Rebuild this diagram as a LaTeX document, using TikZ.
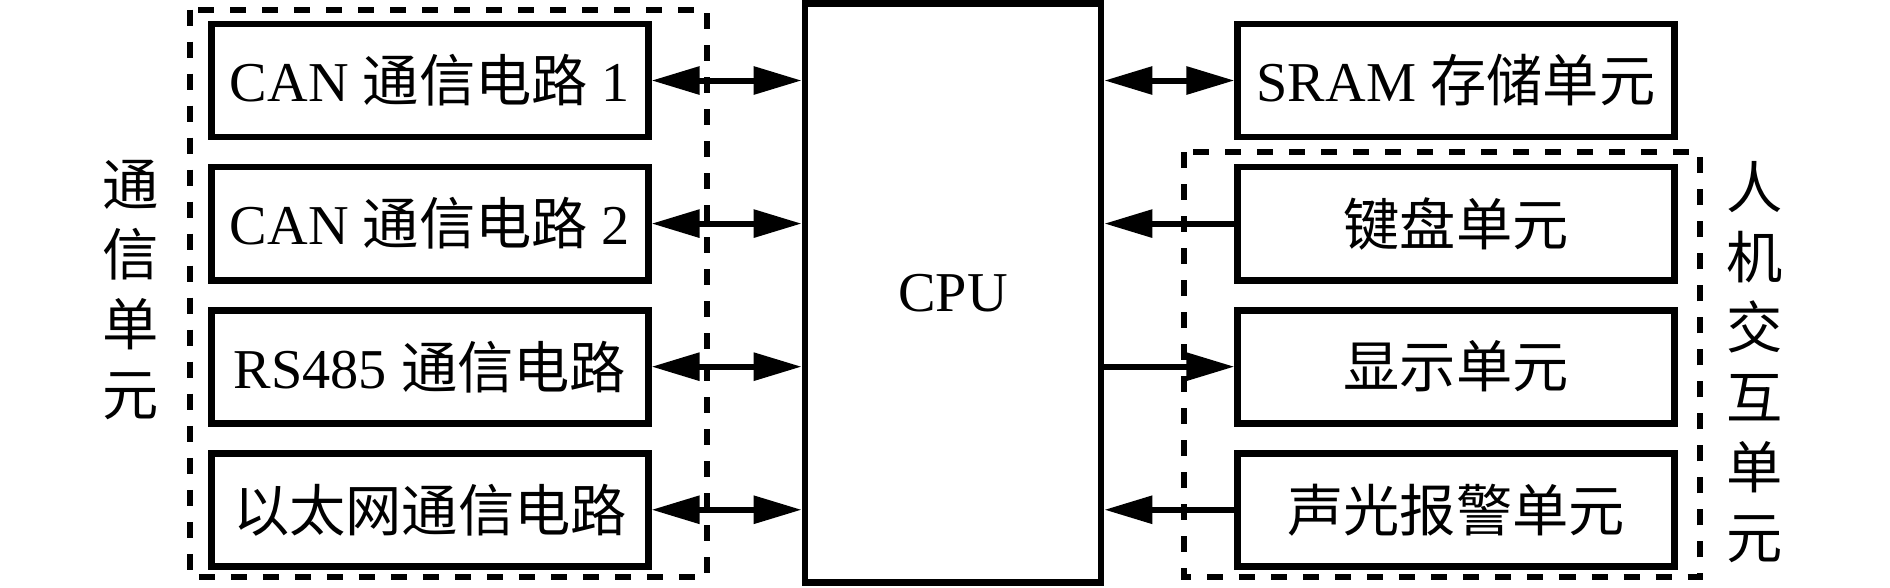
\documentclass[tikz,border=0pt]{standalone}
\usepackage{fontspec}
\setmainfont{Liberation Serif}
\newfontfamily\cjk{Noto Sans CJK SC}
\usetikzlibrary{arrows.meta,positioning}
\tikzstyle{aB}=[every edge/.style={draw,line width=0.06cm,>={Triangle[length=0.48cm,width=0.27cm]}}]
\tikzstyle{Ablk}=[draw,line width=0.068cm,minimum width=4.36cm,minimum height=1.13cm,inner sep=0,
                node distance=1.43cm,font=\fontsize{16}{19}\selectfont]
\tikzstyle{Acpu}=[draw,line width=0.065cm,minimum width=2.96cm,minimum height=5.79cm,inner sep=0,
                font=\fontsize{16}{19}\selectfont]
\tikzstyle{Agrp}=[line width=0.06cm,dash pattern=on 0.16cm off 0.16cm]
\tikzstyle{Alab}=[align=center,inner sep=0,font=\cjk\fontsize{16}{19.9}\selectfont]
\newcommand{\zh}[1]{{\cjk #1}}

\begin{document}
\begin{tikzpicture}[aB,x=0.01cm,y=-0.01cm]
    \useasboundingbox (0,0) rectangle (1890,587);

    \node[Acpu] (cpu) at (953,293) {CPU};
    % communication side
    \node[Ablk] (can1) at (430,80.5) {CAN \zh{通信电路} 1};
    \node[Ablk,below of=can1] (can2) {CAN \zh{通信电路} 2};
    \node[Ablk,below of=can2] (rs485) {RS485 \zh{通信电路}};
    \node[Ablk,below of=rs485] (eth) {\zh{以太网通信电路}};
    \draw[Agrp] (190,9.5) rectangle (707,577);
    \node[Alab] (comm) at (131,290) {通\\信\\单\\元};
    % memory and HMI side
    \node[Ablk] (sram) at (1456,80.5) {SRAM \zh{存储单元}};
    \node[Ablk,below of=sram] (key) {\zh{键盘单元}};
    \node[Ablk,below of=key] (disp) {\zh{显示单元}};
    \node[Ablk,below of=disp] (alarm) {\zh{声光报警单元}};
    \draw[Agrp] (1184,152) rectangle (1700,577);
    \node[Alab] (hmi) at (1755,362) {人\\机\\交\\互\\单\\元};

    \foreach \n in {can1,can2,rs485,eth}
        \path (\n.east) edge[<->] (\n.east -| cpu.west);
    \path
    (sram.west -| cpu.east) edge[<->] (sram.west)
    (key.west) edge[->] (key.west -| cpu.east)
    (disp.west -| cpu.east) edge[->] (disp.west)
    (alarm.west) edge[->] (alarm.west -| cpu.east)
    ;
\end{tikzpicture}
\end{document}
